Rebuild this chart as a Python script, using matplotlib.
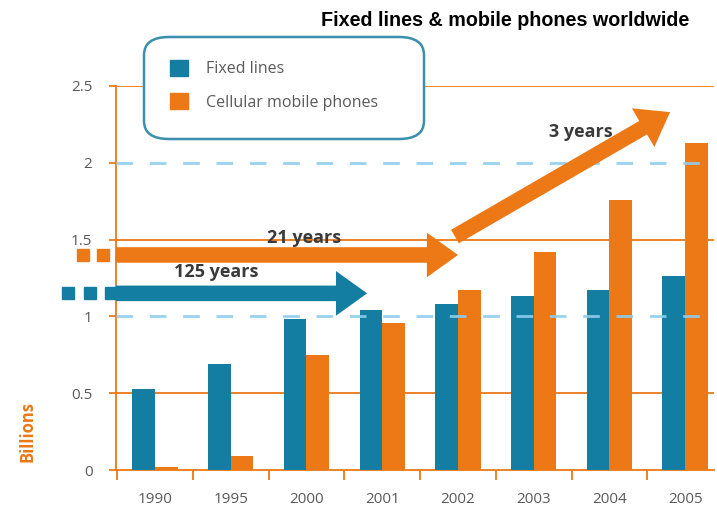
import matplotlib.pyplot as plt
import numpy as np
from matplotlib.patches import FancyBboxPatch, Patch

# data (billions)
years = ['1990', '1995', '2000', '2001', '2002', '2003', '2004', '2005']
fixed_lines = [0.53, 0.69, 0.98, 1.04, 1.08, 1.13, 1.17, 1.26]
mobile_phones = [0.02, 0.09, 0.75, 0.96, 1.17, 1.42, 1.76, 2.13]

TEAL = '#137ea2'
ORANGE = '#ec7816'
LIGHTBLUE = '#8ecdef'
GREY = '#5a5a5a'

plt.rcParams['font.family'] = ['Open Sans', 'DejaVu Sans']

fig = plt.figure(figsize=(7.17, 5.14), dpi=100)
ax = fig.add_axes([116 / 717, 1 - 470 / 514, 598 / 717, 384 / 514])

x = np.arange(len(years))
w = 0.3
ax.bar(x - w / 2, fixed_lines, w, color=TEAL, zorder=3)
ax.bar(x + w / 2, mobile_phones, w, color=ORANGE, zorder=3)

ax.set_xlim(-0.515, 7.38)
ax.set_ylim(0, 2.5)

# grid lines: solid orange at .5 steps, dashed light blue at whole numbers
for v in [0.5, 1.5, 2.5]:
    ax.axhline(v, color=ORANGE, lw=1.3, zorder=1)
for v in [1, 2]:
    ax.axhline(v, color=LIGHTBLUE, lw=2, dashes=(6, 6), alpha=0.9, zorder=4)

for s in ['top', 'right']:
    ax.spines[s].set_visible(False)
for s in ['left', 'bottom']:
    ax.spines[s].set_color(ORANGE)
    ax.spines[s].set_linewidth(1.3)

ax.set_yticks([0, 0.5, 1, 1.5, 2, 2.5])
ax.set_yticklabels(['0', '0.5', '1', '1.5', '2', '2.5'])
ax.tick_params(axis='y', colors=ORANGE, length=5, width=1.3, pad=12,
               labelcolor=GREY, labelsize=11)
ax.set_xticks(x)
ax.set_xticklabels(years)
ax.set_xticks(np.arange(-0.5, 7.5, 1), minor=True)
ax.tick_params(axis='x', which='major', length=0, pad=16, labelcolor=GREY, labelsize=11)
ax.tick_params(axis='x', which='minor', length=7, width=1.3, color=ORANGE)

fig.text(27 / 717, 1 - 432 / 514, 'Billions', rotation=90, color=ORANGE,
         fontsize=12, fontweight='bold', ha='center', va='center')

fig.text(505 / 717, 1 - 20 / 514, 'Fixed lines & mobile phones worldwide',
         family='Liberation Sans', fontsize=14.2, fontweight='bold',
         ha='center', va='center')

# legend box
box = FancyBboxPatch((144 / 717, 1 - 139 / 514), 280 / 717, 102 / 514,
                     boxstyle='round,pad=0,rounding_size=0.035',
                     transform=fig.transFigure, facecolor='white',
                     edgecolor='#3a8fae', lw=1.8, zorder=10)
fig.patches.append(box)
handles = [Patch(color=TEAL, label='Fixed lines'),
           Patch(color=ORANGE, label='Cellular mobile phones')]
leg = fig.legend(handles=handles, loc='upper left', frameon=False,
                 bbox_to_anchor=(156 / 717, 1 - 46 / 514), fontsize=11.5,
                 handlelength=1.1, handleheight=1.1, handletextpad=1.1,
                 labelspacing=1.0, labelcolor=GREY)
leg.set_zorder(11)

# growth arrows
arrows = [
    # (x0, y0, x1, y1, colour, label, label_x, label_y)
    (-0.515, 1.15, 2.80, 1.15, TEAL, '125 years', 0.81, 1.29),
    (-0.515, 1.40, 4.00, 1.40, ORANGE, '21 years', 1.97, 1.51),
    (3.96, 1.52, 6.80, 2.33, ORANGE, '3 years', 5.62, 2.20),
]
for x0, y0, x1, y1, c, lab, lx, ly in arrows:
    ax.annotate('', xy=(x1, y1), xytext=(x0, y0), annotation_clip=False,
                arrowprops=dict(arrowstyle='simple,head_length=1.6,head_width=2.3,tail_width=0.8',
                                color=c, lw=0, mutation_scale=14,
                                shrinkA=0, shrinkB=0), zorder=6)
    ax.text(lx, ly, lab, color='#3a3a3a', fontsize=13, fontweight='bold',
            ha='center', va='center', zorder=7)

# dotted lead-ins left of the axis
for yv, c, xs in [(1.15, TEAL, [-1.15, -0.86, -0.58]), (1.40, ORANGE, [-0.95, -0.69])]:
    ax.plot(xs, [yv] * len(xs), 's', color=c, ms=8, clip_on=False, zorder=6)

fig.savefig('out.png', dpi=100)
